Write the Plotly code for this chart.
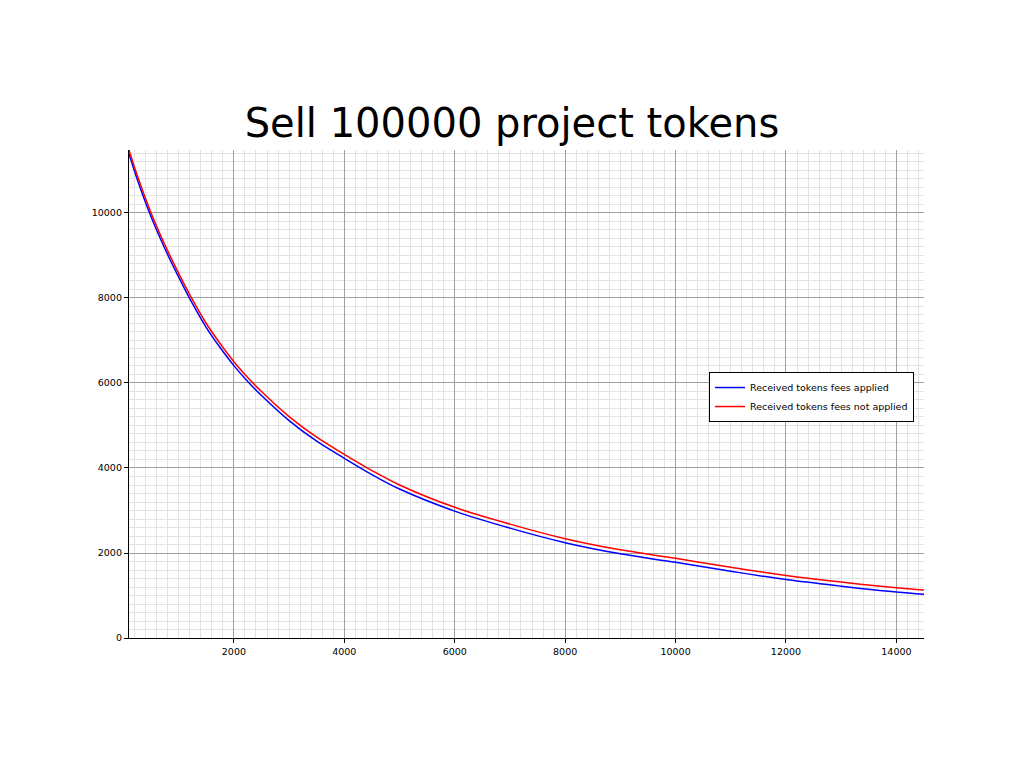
import plotly.graph_objects as go

# Amount of tokens (x) and received tokens
x_vals = [100, 250, 500, 750, 1000, 1250, 1500, 1750, 2000, 2250, 2500, 3000, 3500, 4000,
          4500, 5000, 6000, 7000, 8000, 9000, 10000, 11000, 12000, 13000, 14000, 14500]
received_not_applied = [11482, 10880, 10000, 9250, 8580, 7960, 7400, 6930, 6502, 6130,
                        5800, 5210, 4725, 4322, 3940, 3600, 3075, 2680, 2337, 2075,
                        1875, 1665, 1470, 1315, 1184, 1128]
received_applied = [11390, 10790, 9910, 9160, 8490, 7865, 7305, 6835, 6408, 6035,
                    5705, 5115, 4630, 4228, 3845, 3505, 2985, 2585, 2243, 1980,
                    1781, 1570, 1375, 1220, 1082, 1028]

x_ticks = [2000, 4000, 6000, 8000, 10000, 12000, 14000]
y_ticks = [0, 2000, 4000, 6000, 8000, 10000]

fig = go.Figure()
fig.add_trace(go.Scatter(x=x_vals, y=received_applied, mode="lines",
                         line=dict(color="#0000ff", width=1.5, shape="spline"),
                         name="Received tokens fees applied"))
fig.add_trace(go.Scatter(x=x_vals, y=received_not_applied, mode="lines",
                         line=dict(color="#ff0000", width=1.5, shape="spline"),
                         name="Received tokens fees not applied"))

axis_common = dict(
    showline=True, linecolor="black", linewidth=1.3, mirror=False,
    ticks="outside", ticklen=4, tickcolor="black", tickwidth=1,
    showgrid=True, gridcolor="#a0a0a0", gridwidth=1,
    zeroline=False,
    tickfont=dict(family="DejaVu Sans", size=9.5, color="black"),
    minor=dict(dtick=200, showgrid=True, gridcolor="#e3e3e3", gridwidth=1, ticks=""),
)

fig.update_xaxes(range=[100, 14500], tickvals=x_ticks,
                 ticktext=[str(v) for v in x_ticks], **axis_common)
fig.update_yaxes(range=[0, 11482], tickvals=y_ticks,
                 ticktext=[str(v) for v in y_ticks], **axis_common)

fig.update_layout(
    width=1024, height=768,
    margin=dict(l=129, r=100, t=150, b=130),
    paper_bgcolor="white", plot_bgcolor="white",
    font=dict(family="DejaVu Sans", color="black"),
    title=dict(text="Sell 100000 project tokens", x=0.5, xanchor="center",
               y=1 - 123 / 768, yanchor="middle",
               font=dict(family="DejaVu Sans", size=40, color="black")),
    legend=dict(x=0.7296, y=0.545, xanchor="left", yanchor="top",
                bgcolor="white", bordercolor="black", borderwidth=1,
                font=dict(family="DejaVu Sans", size=9.5, color="black"),
                itemwidth=30, tracegroupgap=0),
    showlegend=True,
)

fig.write_html("out.html")
